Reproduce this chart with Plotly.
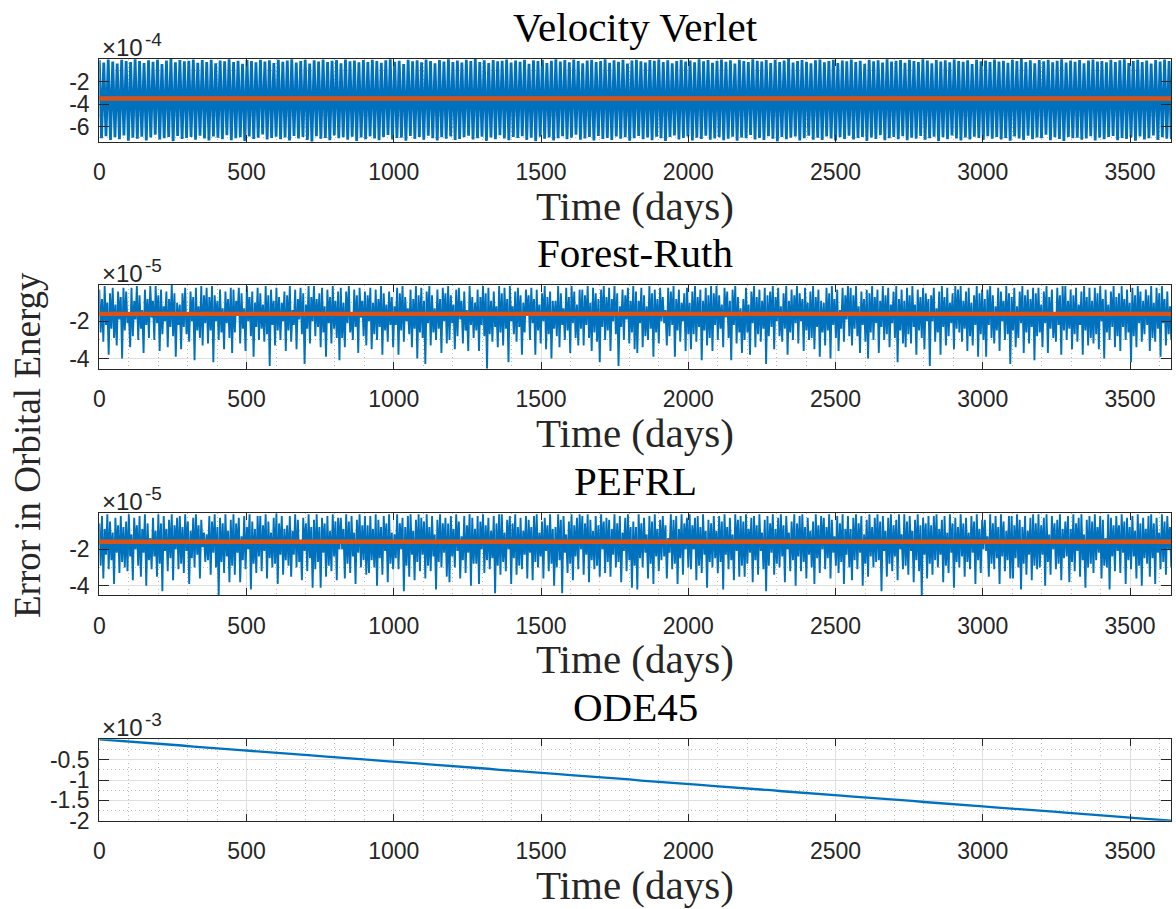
import numpy as np
import plotly.graph_objects as go

# ---------------------------------------------------------------- data
span_days = 3640  # length of the integration, days

# Velocity Verlet energy error (units of 1e-4): alternating crests / troughs
verlet_crest_e4 = [
    -0.12, -0.31, -0.05, -0.22, -0.40, -0.08, -0.17, -0.28, -0.03, -0.19, -0.35, -0.11, -0.24, -0.06, -0.45, -0.14, 0.00, -0.29, -0.09, -0.21,
    -0.16, -0.04, -0.33, -0.10, -0.26, -0.07, -0.38, -0.13, -0.20, -0.02, -0.27, -0.15, -0.42, -0.09, -0.18, -0.30, -0.06, -0.23, -0.11, -0.36,
    -0.08, -0.25, -0.14, -0.03, -0.32, -0.19, -0.07, -0.41, -0.12, -0.22, -0.05, -0.28, -0.16, -0.10, -0.37, -0.04, -0.21, -0.13, -0.30, -0.09,
    -0.27, -0.06, -0.18, -0.34, -0.11, -0.02, -0.24, -0.15, -0.44, -0.08, -0.20, -0.12, -0.29, -0.05, -0.17, -0.39, -0.10, -0.23, -0.03, -0.26,
    -0.14, -0.32, -0.07, -0.19, -0.01, -0.28, -0.12, -0.36, -0.09, -0.21, -0.16, -0.04, -0.31, -0.13, -0.25, -0.06, -0.43, -0.11, -0.18, -0.08,
    -0.35, -0.15, -0.03, -0.22, -0.10, -0.29, -0.05, -0.19, -0.38, -0.13, -0.07, -0.26, -0.17, -0.02, -0.33, -0.12, -0.24, -0.08, -0.40, -0.14,
    -0.06, -0.20, -0.31, -0.09, -0.16, -0.04, -0.27, -0.11, -0.37, -0.18, -0.07, -0.23, -0.13, -0.30, -0.02, -0.21, -0.10, -0.34, -0.15, -0.05,
    -0.25, -0.12, -0.41, -0.08, -0.19, -0.28, -0.03, -0.16, -0.22, -0.10, -0.36, -0.06, -0.27, -0.14, -0.01, -0.32, -0.17, -0.09, -0.24, -0.39,
    -0.11, -0.04, -0.29, -0.18, -0.07, -0.35, -0.13, -0.21, -0.05, -0.26, -0.15, -0.42, -0.08, -0.20, -0.12, -0.31, -0.03, -0.23, -0.16, -0.10,
    -0.33, -0.07, -0.19, -0.27, -0.02, -0.14, -0.38, -0.09, -0.22, -0.12, -0.30, -0.05, -0.17, -0.25, -0.11, -0.44, -0.06, -0.20, -0.13, -0.28,
    -0.04, -0.23, -0.15, -0.34, -0.08, -0.18, -0.01, -0.26, -0.12, -0.39, -0.10, -0.21, -0.06, -0.29, -0.16, -0.03, -0.32, -0.14, -0.24, -0.09,
    -0.37, -0.13, -0.05, -0.22, -0.17, -0.30, -0.08, -0.26, -0.11, -0.02, -0.35, -0.19, -0.07, -0.28, -0.14, -0.40, -0.10, -0.23, -0.04, -0.18,
]
verlet_trough_e4 = [
    -7.02, -6.85, -7.18, -6.93, -7.10, -6.78, -7.25, -6.97, -7.06, -6.88, -7.21, -6.95, -6.72, -7.13, -7.01, -6.90, -7.28, -6.83, -7.08, -6.99,
    -6.91, -7.16, -6.80, -7.04, -7.22, -6.87, -6.98, -7.11, -6.75, -7.19, -7.03, -6.94, -7.26, -6.86, -7.09, -6.97, -6.69, -7.14, -7.00, -6.89,
    -7.12, -6.96, -7.23, -6.82, -7.05, -6.92, -7.17, -7.33, -6.84, -7.07, -6.99, -7.20, -6.77, -7.02, -6.93, -7.15, -6.88, -7.27, -6.95, -7.10,
    -6.86, -7.04, -7.19, -6.90, -6.74, -7.13, -7.00, -6.97, -7.24, -6.83, -7.08, -6.92, -7.16, -6.79, -7.01, -7.22, -6.94, -7.06, -6.87, -7.18,
    -7.09, -6.93, -6.81, -7.14, -7.03, -6.89, -7.26, -6.96, -7.11, -6.76, -7.05, -7.20, -6.91, -7.00, -6.84, -7.17, -6.98, -7.29, -6.88, -7.07,
    -6.95, -7.21, -7.02, -6.85, -7.12, -6.97, -6.71, -7.15, -7.04, -6.90, -7.23, -6.82, -7.08, -6.99, -7.18, -6.87, -7.06, -6.94, -7.25, -7.01,
    -6.83, -7.10, -6.96, -7.19, -6.89, -7.03, -7.27, -6.92, -6.78, -7.14, -7.00, -6.86, -7.22, -6.98, -7.09, -6.80, -7.16, -7.05, -6.93, -7.20,
    -7.07, -6.88, -7.24, -6.95, -7.01, -6.73, -7.13, -6.99, -7.18, -6.84, -7.06, -7.30, -6.91, -7.11, -6.97, -6.87, -7.21, -7.02, -6.79, -7.15,
    -6.98, -7.17, -6.86, -7.05, -7.23, -6.94, -7.09, -6.81, -7.14, -7.00, -6.90, -7.26, -6.96, -7.08, -6.75, -7.19, -7.03, -6.92, -7.12, -6.85,
    -7.20, -6.97, -7.06, -6.83, -7.15, -7.01, -6.89, -7.28, -6.93, -7.10, -6.77, -7.04, -7.22, -6.95, -7.13, -6.88, -7.00, -7.17, -6.84, -7.07,
    -6.92, -7.14, -6.99, -7.25, -6.87, -7.05, -7.18, -6.80, -7.11, -6.96, -7.02, -6.70, -7.20, -6.94, -7.09, -7.27, -6.90, -7.03, -6.98, -7.16,
    -7.04, -6.85, -7.21, -6.97, -7.12, -6.91, -6.82, -7.19, -7.00, -7.08, -6.95, -7.24, -6.86, -7.13, -7.01, -6.78, -7.17, -6.93, -7.06, -7.10,
]

# Forest-Ruth energy error (units of 1e-5)
forest_ruth_e5 = [
    -0.3, -2.6, -0.8, -3.1, -0.1, -2.2, -1.0, -3.8, -0.5, -2.4, -0.2, -2.9, -1.1, -3.3, -0.4, -1.9, -0.7, -4.0, -0.2, -2.5,
    -0.4, -2.1, -1.5, -3.4, -0.2, -2.8, -0.9, -1.9, -0.1, -3.0, -0.6, -2.4, -1.4, -3.7, -0.3, -2.2, -0.8, -2.9, -0.1, -1.8,
    -0.9, -3.0, -0.1, -2.1, -0.6, -3.6, -0.3, -2.7, -1.2, -2.0, -0.4, -3.4, -0.8, -2.3, -0.05, -2.8, -0.5, -3.9, -1.0, -2.2,
    -1.1, -3.5, -0.5, -2.3, -0.2, -2.7, -1.6, -3.1, -0.4, -2.0, -0.7, -4.1, -0.2, -2.5, -1.2, -2.9, -0.1, -3.3, -0.6, -2.1,
    -0.2, -3.2, -0.7, -2.5, -0.1, -4.2, -0.6, -2.0, -0.9, -3.0, -0.3, -2.6, -1.3, -3.5, -0.4, -2.1, -0.8, -2.9, -0.2, -3.7,
    -0.3, -2.6, -0.9, -1.7, -0.2, -3.2, -0.5, -2.4, -1.3, -3.6, -0.1, -2.0, -0.7, -2.8, -0.4, -3.9, -1.0, -2.3, -0.2, -3.0,
    -0.5, -2.4, -1.1, -3.1, -0.1, -2.7, -0.6, -4.4, -0.3, -2.2, -0.9, -3.3, -0.2, -2.5, -0.7, -3.0, -1.0, -2.0, -0.4, -3.6,
    -0.6, -2.5, -0.1, -3.1, -1.4, -2.2, -0.3, -3.5, -0.8, -1.9, -0.2, -2.7, -0.5, -4.3, -1.1, -2.4, -0.1, -3.2, -0.7, -2.0,
    -0.1, -2.8, -0.8, -2.3, -0.5, -3.4, -0.2, -2.6, -1.2, -3.9, -0.3, -2.1, -0.7, -3.2, -0.1, -2.4, -0.9, -2.9, -0.4, -4.1,
    -0.2, -2.9, -1.0, -3.4, -0.4, -2.1, -0.1, -2.6, -1.5, -3.0, -0.3, -2.3, -0.6, -3.7, -0.2, -1.8, -0.9, -2.8, -0.4, -3.3,
    -0.6, -2.0, -0.2, -3.5, -1.0, -2.7, -0.3, -3.0, -0.8, -2.3, -0.1, -3.8, -0.5, -2.5, -1.1, -3.1, -0.4, -2.2, -0.7, -3.4,
    -1.2, -2.2, -0.2, -3.8, -0.5, -2.5, -0.1, -3.1, -0.7, -2.0, -1.3, -2.7, -0.3, -3.4, -0.8, -2.4, -0.1, -4.0, -0.6, -2.6,
    -0.2, -2.9, -0.9, -4.3, -0.4, -2.1, -0.1, -3.3, -0.6, -2.6, -1.3, -3.0, -0.3, -2.4, -0.8, -3.7, -0.2, -2.0, -0.5, -3.2,
    -0.1, -3.0, -0.6, -2.1, -1.1, -3.5, -0.3, -2.8, -0.2, -1.9, -0.9, -3.2, -0.4, -2.5, -1.4, -3.6, -0.1, -2.2, -0.7, -2.9,
    -1.0, -2.5, -0.3, -3.6, -0.7, -2.2, -0.1, -2.8, -0.5, -4.55, -0.2, -2.7, -0.9, -3.1, -0.4, -2.3, -1.2, -3.4, -0.1, -2.6,
    -0.5, -3.3, -0.2, -2.4, -0.8, -4.2, -0.1, -2.0, -1.2, -2.7, -0.4, -3.1, -0.2, -2.3, -0.6, -3.8, -1.0, -2.6, -0.3, -1.7,
    -0.6, -3.0, -0.2, -2.1, -0.8, -3.8, -0.3, -2.5, -1.1, -3.2, -0.5, -2.0, -0.1, -3.5, -0.7, -2.7, -0.4, -4.0, -0.9, -2.4,
    -0.9, -2.8, -0.1, -3.4, -0.5, -2.2, -1.3, -3.0, -0.2, -2.5, -0.7, -3.7, -0.1, -2.1, -0.4, -2.9, -1.1, -3.3, -0.3, -2.4,
    -0.3, -3.3, -0.6, -2.2, -0.1, -2.9, -1.0, -3.6, -0.2, -2.6, -0.5, -3.1, -0.8, -4.2, -0.3, -2.3, -0.1, -3.0, -0.7, -2.5,
    -0.2, -3.6, -0.8, -2.0, -0.1, -2.7, -0.5, -4.4, -1.2, -2.3, -0.3, -3.0, -0.6, -1.9, -0.2, -3.2, -0.9, -2.6, -0.1, -3.5,
    -0.4, -3.7, -0.9, -2.1, -0.2, -3.4, -0.6, -2.8, -1.2, -3.0, -0.1, -2.4, -0.5, -3.9, -0.3, -2.6, -0.8, -3.2, -0.2, -2.0,
    -0.7, -2.1, -1.4, -3.3, -0.2, -2.8, -0.4, -2.2, -0.1, -3.9, -0.8, -2.5, -0.3, -3.1, -1.0, -2.0, -0.5, -3.6, -0.2, -2.7,
    -1.0, -3.5, -0.4, -2.7, -0.1, -3.1, -0.7, -2.3, -0.3, -4.1, -0.9, -2.5, -0.2, -3.3, -0.6, -2.9, -0.1, -3.6, -0.5, -2.2,
    -0.1, -3.0, -0.6, -2.4, -1.1, -3.4, -0.2, -1.8, -0.4, -2.9, -0.9, -4.1, -0.3, -2.2, -0.1, -3.2, -0.7, -2.6, -1.3, -3.7,
    -0.8, -3.0, -0.2, -2.6, -1.1, -3.8, -0.4, -2.1, -0.1, -3.4, -0.7, -2.7, -0.3, -3.1, -0.9, -2.4, -0.2, -4.3, -0.6, -2.8,
    -0.4, -2.3, -0.1, -3.5, -0.7, -2.0, -0.2, -2.8, -1.2, -3.1, -0.5, -2.4, -0.1, -3.8, -0.9, -2.6, -0.3, -3.0, -0.6, -2.1,
    -0.1, -3.2, -0.5, -2.0, -0.8, -3.6, -0.2, -2.5, -1.0, -3.0, -0.4, -2.9, -0.1, -3.5, -0.7, -2.3, -0.3, -3.9, -0.9, -2.6,
    -1.0, -3.3, -0.2, -2.5, -0.5, -4.0, -0.1, -2.2, -0.8, -2.9, -0.3, -3.6, -1.4, -2.4, -0.2, -3.1, -0.6, -1.9, -0.1, -2.8,
    -0.2, -3.3, -0.6, -2.4, -0.1, -2.8, -1.2, -3.7, -0.4, -2.2, -0.8, -3.1, -0.3, -4.0, -0.5, -2.6, -0.1, -3.0, -0.7, -2.1,
    -0.3, -3.7, -0.9, -2.3, -0.1, -3.0, -0.6, -2.7, -0.2, -3.4, -1.1, -2.1, -0.4, -2.9, -0.1, -4.2, -0.8, -2.5, -0.3, -3.2,
    -0.9, -3.4, -0.2, -2.7, -0.6, -3.2, -0.1, -2.3, -1.1, -3.8, -0.3, -2.5, -0.7, -2.9, -0.2, -3.5, -0.5, -2.0, -0.8, -4.4,
    -0.6, -2.0, -0.2, -3.1, -1.3, -2.6, -0.4, -3.8, -0.1, -2.3, -0.7, -3.3, -0.2, -2.8, -1.0, -2.1, -0.5, -3.5, -0.1, -2.4,
    -0.3, -2.6, -0.1, -3.1, -0.9, -2.4, -0.4, -3.6, -0.2, -2.8, -1.0, -3.3, -0.6, -2.2, -0.1, -3.9, -0.5, -2.7, -0.3, -3.0,
    -0.8, -3.9, -0.3, -2.2, -0.1, -2.9, -0.6, -3.2, -1.2, -2.5, -0.2, -3.6, -0.4, -2.0, -0.9, -3.0, -0.1, -2.7, -0.5, -4.3,
    -0.7, -2.5, -0.2, -3.4, -1.2, -2.9, -0.4, -2.1, -0.1, -3.7, -0.6, -2.6, -0.3, -3.2, -0.8, -2.3, -0.2, -4.1, -0.5, -2.8,
    -0.2, -2.6, -1.1, -3.4, -0.4, -2.1, -0.1, -3.7, -0.7, -2.4, -0.3, -2.9, -1.5, -3.1, -0.2, -2.2, -0.6, -3.8, -0.1, -2.5,
    -0.1, -3.0, -0.9, -2.4, -0.3, -3.5, -0.6, -2.7, -0.2, -3.1, -1.1, -2.2, -0.4, -3.8, -0.1, -2.5, -0.7, -3.3, -0.2, -2.9,
    -0.9, -3.2, -0.2, -2.7, -0.5, -3.5, -0.1, -2.0, -0.8, -4.0, -0.3, -2.6, -1.1, -3.0, -0.4, -2.3, -0.1, -3.4, -0.7, -2.8,
    -0.5, -3.6, -0.1, -2.3, -0.8, -3.0, -0.3, -2.6, -1.0, -4.2, -0.2, -2.8, -0.6, -3.4, -0.1, -2.1, -0.4, -3.1, -0.9, -2.7,
    -0.3, -2.2, -0.6, -3.6, -0.1, -2.9, -1.0, -3.1, -0.2, -2.4, -0.5, -3.9, -0.1, -2.1, -0.8, -3.3, -0.4, -2.7, -1.2, -3.0,
]

# PEFRL energy error (units of 1e-5)
pefrl_e5 = [
    -0.6, -2.9, -0.2, -3.6, -0.9, -2.3, -0.1, -3.1, -0.5, -2.6, -1.1, -3.9, -0.3, -2.2, -0.7, -3.3, -0.2, -2.7, -0.8, -3.0,
    -0.5, -3.2, -0.1, -2.4, -1.2, -3.7, -0.3, -2.0, -0.7, -2.9, -0.2, -3.5, -0.9, -2.2, -0.1, -4.0, -0.6, -2.6, -1.4, -3.1,
    -0.3, -2.4, -1.0, -3.5, -0.1, -2.8, -0.6, -4.3, -0.2, -2.1, -0.9, -3.2, -0.4, -2.5, -0.1, -3.7, -0.7, -2.0, -0.3, -3.1,
    -0.2, -2.8, -0.8, -3.3, -0.1, -2.1, -0.5, -3.9, -1.0, -2.5, -0.3, -3.0, -0.1, -2.3, -0.7, -3.6, -0.4, -1.9, -1.1, -2.7,
    -1.2, -2.6, -0.2, -3.4, -0.5, -2.2, -0.1, -3.0, -0.8, -4.5, -0.3, -2.7, -0.6, -3.3, -0.1, -2.4, -1.0, -3.8, -0.4, -2.9,
    -0.1, -3.4, -0.6, -2.2, -0.3, -3.8, -1.3, -2.6, -0.2, -3.1, -0.8, -2.0, -0.1, -4.2, -0.5, -2.8, -0.9, -3.3, -0.2, -2.4,
    -0.2, -3.2, -0.7, -2.1, -0.1, -3.6, -0.5, -2.5, -1.1, -3.0, -0.3, -2.8, -0.05, -3.9, -0.6, -2.3, -0.2, -3.4, -0.9, -2.6,
    -0.7, -2.9, -0.2, -3.5, -1.0, -2.3, -0.1, -3.0, -0.4, -2.7, -1.5, -3.7, -0.3, -2.1, -0.6, -3.2, -0.1, -2.5, -0.8, -4.1,
    -0.4, -3.1, -0.1, -2.7, -0.8, -4.1, -0.3, -2.2, -0.6, -3.5, -0.2, -2.9, -1.0, -3.2, -0.1, -2.4, -0.5, -3.7, -0.3, -2.0,
    -0.3, -2.0, -0.9, -3.6, -0.1, -2.8, -0.5, -3.3, -0.2, -2.4, -1.1, -3.9, -0.4, -2.2, -0.1, -3.0, -0.7, -2.6, -0.2, -3.4,
    -0.7, -3.3, -0.2, -2.6, -0.9, -3.0, -0.1, -4.0, -0.4, -2.5, -0.8, -3.4, -0.2, -2.1, -0.6, -3.8, -0.1, -2.8, -1.1, -3.1,
    -1.2, -2.5, -0.1, -3.1, -0.6, -2.0, -0.3, -4.3, -0.8, -2.9, -0.2, -3.5, -0.1, -2.3, -1.0, -3.7, -0.4, -2.7, -0.1, -3.2,
    -0.3, -2.3, -0.5, -3.6, -0.1, -2.9, -0.8, -3.2, -0.2, -2.4, -1.2, -4.2, -0.4, -2.7, -0.1, -3.0, -0.6, -2.2, -0.3, -3.5,
    -0.6, -3.8, -0.2, -2.4, -0.9, -3.0, -0.1, -2.1, -0.5, -3.6, -1.3, -2.6, -0.2, -3.3, -0.7, -2.2, -0.1, -4.0, -0.3, -2.8,
    -0.9, -2.8, -0.2, -3.9, -0.5, -2.0, -0.1, -3.3, -0.7, -2.6, -0.3, -3.1, -1.0, -2.5, -0.2, -4.4, -0.6, -2.9, -0.1, -3.4,
    -0.1, -2.7, -1.1, -3.2, -0.4, -2.0, -0.2, -3.9, -0.6, -2.5, -0.1, -3.4, -0.8, -2.9, -0.3, -3.1, -1.0, -2.3, -0.2, -3.6,
    -0.4, -2.2, -0.8, -3.7, -0.2, -2.7, -0.1, -3.0, -1.1, -2.4, -0.5, -3.6, -0.3, -2.1, -0.7, -3.2, -0.1, -2.8, -0.9, -4.0,
    -0.8, -3.0, -0.1, -2.6, -0.4, -4.4, -0.2, -2.2, -1.2, -3.3, -0.5, -2.8, -0.1, -3.7, -0.7, -2.4, -0.3, -3.1, -0.1, -2.0,
    -0.2, -3.4, -0.6, -2.3, -0.1, -3.8, -0.4, -2.6, -1.0, -3.1, -0.2, -2.9, -0.7, -3.5, -0.1, -2.0, -0.5, -3.3, -0.3, -2.7,
    -0.4, -3.5, -0.9, -2.3, -0.1, -3.0, -0.6, -2.7, -0.2, -3.8, -1.1, -2.1, -0.3, -3.2, -0.1, -2.6, -0.8, -4.1, -0.5, -2.9,
    -0.8, -4.2, -0.1, -2.5, -0.6, -3.0, -0.3, -2.2, -1.2, -3.6, -0.2, -2.8, -0.5, -3.9, -0.1, -2.4, -0.9, -3.2, -0.4, -2.6,
    -0.2, -2.4, -0.7, -3.6, -1.4, -2.2, -0.1, -3.1, -0.4, -2.8, -0.2, -3.9, -0.9, -2.5, -0.1, -3.4, -0.6, -2.0, -0.3, -3.0,
    -0.1, -3.1, -0.7, -2.0, -0.3, -3.7, -0.2, -2.9, -0.8, -3.3, -0.1, -2.3, -1.0, -4.1, -0.4, -2.7, -0.6, -3.0, -0.2, -2.5,
    -1.0, -3.3, -0.2, -2.7, -0.5, -4.2, -0.1, -2.3, -0.8, -3.1, -0.3, -2.6, -1.2, -3.7, -0.1, -2.1, -0.4, -3.5, -0.2, -2.9,
    -0.5, -3.5, -0.1, -2.8, -0.9, -2.2, -0.3, -3.8, -0.2, -2.6, -0.7, -3.4, -0.1, -2.1, -1.1, -3.1, -0.4, -4.3, -0.2, -2.9,
    -0.6, -2.2, -0.1, -3.4, -0.9, -2.8, -0.3, -3.0, -0.1, -2.4, -0.7, -3.8, -0.2, -2.0, -1.1, -3.2, -0.5, -2.6, -0.1, -4.0,
    -0.6, -2.4, -0.2, -3.2, -0.1, -2.7, -0.8, -3.6, -0.3, -2.3, -1.0, -3.0, -0.5, -3.9, -0.1, -2.5, -0.7, -3.3, -0.2, -2.0,
    -0.3, -3.1, -0.8, -2.5, -0.1, -3.6, -0.4, -2.2, -1.3, -2.9, -0.2, -3.3, -0.6, -2.7, -0.1, -3.9, -0.9, -2.3, -0.2, -3.0,
    -0.9, -3.7, -0.3, -2.6, -0.1, -3.1, -0.6, -2.2, -0.2, -4.0, -1.2, -2.8, -0.4, -3.5, -0.1, -2.4, -0.8, -3.0, -0.3, -2.7,
    -0.1, -2.6, -0.5, -4.3, -0.2, -2.1, -1.0, -3.5, -0.3, -2.8, -0.1, -3.2, -0.7, -2.4, -0.4, -3.7, -0.1, -2.0, -1.2, -3.1,
    -0.1, -2.9, -0.5, -3.4, -0.2, -2.1, -1.0, -3.8, -0.4, -2.6, -0.1, -3.2, -0.7, -4.5, -0.3, -2.3, -0.6, -3.6, -0.2, -2.8,
    -0.7, -3.4, -0.2, -2.6, -0.1, -3.0, -0.9, -2.3, -0.4, -3.8, -0.2, -2.9, -1.1, -3.3, -0.1, -2.2, -0.6, -4.1, -0.3, -2.7,
    -0.8, -3.0, -0.1, -2.4, -0.6, -3.5, -0.3, -2.7, -1.1, -3.1, -0.2, -2.2, -0.5, -3.9, -0.1, -2.6, -0.9, -3.3, -0.4, -2.0,
    -0.4, -2.1, -1.3, -3.5, -0.1, -2.8, -0.6, -3.1, -0.2, -2.5, -0.8, -3.9, -0.1, -2.4, -0.5, -3.2, -1.0, -2.6, -0.2, -3.6,
    -0.2, -3.6, -0.7, -2.5, -0.1, -3.0, -0.4, -4.2, -0.8, -2.8, -0.2, -3.4, -1.0, -2.3, -0.3, -3.7, -0.1, -2.9, -0.6, -3.1,
    -0.1, -3.0, -0.7, -2.3, -0.3, -4.0, -0.1, -2.7, -1.2, -3.4, -0.2, -2.0, -0.6, -3.1, -0.4, -2.8, -0.1, -3.7, -0.9, -2.5,
    -0.5, -2.4, -0.2, -3.8, -0.9, -2.7, -0.1, -3.2, -0.6, -2.1, -0.3, -3.5, -0.1, -2.6, -1.2, -4.1, -0.4, -3.0, -0.2, -2.8,
    -0.5, -3.3, -0.1, -2.6, -0.8, -2.2, -0.2, -3.6, -0.4, -2.9, -1.4, -3.0, -0.1, -4.2, -0.3, -2.4, -0.7, -3.2, -0.2, -2.1,
    -0.7, -3.3, -0.1, -2.2, -0.5, -3.9, -0.3, -2.6, -0.8, -3.1, -0.2, -2.4, -1.0, -3.6, -0.1, -2.9, -0.6, -4.0, -0.3, -2.5,
    -0.9, -2.8, -0.2, -3.5, -0.1, -2.5, -0.6, -3.9, -0.3, -2.2, -1.1, -3.1, -0.1, -2.7, -0.5, -3.4, -0.2, -2.0, -0.8, -3.0,
]

# ODE45 energy error (units of 1e-3), sampled every 40 days
ode45_e3 = [
    0.000, -0.020, -0.046, -0.064, -0.090, -0.108, -0.134, -0.152, -0.178, -0.196,
    -0.222, -0.240, -0.265, -0.288, -0.306, -0.332, -0.350, -0.376, -0.394, -0.420,
    -0.438, -0.463, -0.486, -0.504, -0.530, -0.547, -0.573, -0.591, -0.617, -0.635,
    -0.661, -0.679, -0.705, -0.723, -0.749, -0.767, -0.793, -0.811, -0.837, -0.855,
    -0.881, -0.899, -0.925, -0.943, -0.969, -0.987, -1.013, -1.031, -1.057, -1.075,
    -1.101, -1.119, -1.145, -1.163, -1.189, -1.207, -1.233, -1.251, -1.277, -1.295,
    -1.321, -1.339, -1.365, -1.383, -1.409, -1.427, -1.453, -1.471, -1.497, -1.515,
    -1.540, -1.558, -1.584, -1.602, -1.628, -1.646, -1.672, -1.690, -1.716, -1.734,
    -1.760, -1.778, -1.804, -1.822, -1.848, -1.866, -1.892, -1.910, -1.936, -1.954,
    -1.976, -2.000,
]

# mean error levels (same units as the series above)
mean_verlet_e4 = -3.5
mean_forest_ruth_e5 = -1.6
mean_pefrl_e5 = -1.6

titles = ["Velocity Verlet", "Forest-Ruth", "PEFRL", "ODE45"]
exponents = ["-4", "-5", "-5", "-3"]
x_ticks = [0, 500, 1000, 1500, 2000, 2500, 3000, 3500]
y_ticks = [[-6, -4, -2], [-4, -2], [-4, -2], [-2, -1.5, -1, -0.5]]
y_tick_text = [["-6", "-4", "-2"], ["-4", "-2"], ["-4", "-2"], ["-2", "-1.5", "-1", "-0.5"]]
y_minor_step = [1, 1, 1, 0.25]

# ---------------------------------------------------------------- figure
W, H = 1176, 909
BLUE = "#0072BD"
ORANGE = "#D95319"
INK = "#262626"
SANS = "Liberation Sans, Arial, sans-serif"
SERIF = "Liberation Serif, Times New Roman, serif"


def px_x(px):
    return px / W


def px_y(px):
    return 1 - px / H


plot_left, plot_right = 99.3, 1171.3
# (top, bottom) of each panel in pixels
panel_px = [(59.0, 141.7), (285.0, 368.7), (513.3, 595.0), (739.3, 820.7)]

verlet_series = [v for pair in zip(verlet_crest_e4, verlet_trough_e4) for v in pair]
series = [verlet_series, forest_ruth_e5, pefrl_e5, ode45_e3]
means = [mean_verlet_e4, mean_forest_ruth_e5, mean_pefrl_e5, None]
line_widths = [2.8, 1.9, 1.9, 2.3]

fig = go.Figure()
annotations = []
layout_axes = {}

for i, (vals, mean) in enumerate(zip(series, means)):
    n = i + 1
    xa = "x" if n == 1 else f"x{n}"
    ya = "y" if n == 1 else f"y{n}"
    t = np.linspace(0, span_days, len(vals))
    fig.add_trace(go.Scatter(x=t, y=vals, mode="lines", xaxis=xa, yaxis=ya,
                             line=dict(color=BLUE, width=line_widths[i]),
                             hoverinfo="skip"))
    if mean is not None:
        fig.add_trace(go.Scatter(x=[0, span_days], y=[mean, mean], mode="lines",
                                 xaxis=xa, yaxis=ya,
                                 line=dict(color=ORANGE, width=4.3),
                                 hoverinfo="skip"))

    top, bottom = panel_px[i]
    common = dict(
        showline=True, linecolor=INK, linewidth=1.2, mirror="ticks",
        ticks="inside", tickcolor=INK, tickwidth=1.2,
        showgrid=True, gridcolor="#dfdfdf", gridwidth=1,
        zeroline=False, automargin=False,
        tickfont=dict(family=SANS, size=23, color=INK),
    )
    layout_axes["xaxis" if n == 1 else f"xaxis{n}"] = dict(
        common,
        domain=[px_x(plot_left), px_x(plot_right)],
        anchor=ya, range=[0, span_days],
        tickmode="array", tickvals=x_ticks, ticklen=7,
        ticklabelstandoff=10,
        minor=dict(tick0=0, dtick=100, showgrid=True, gridcolor="#bdbdbd",
                   griddash="1px,3px", gridwidth=1, ticks=""),
    )
    layout_axes["yaxis" if n == 1 else f"yaxis{n}"] = dict(
        common,
        domain=[px_y(bottom), px_y(top)],
        anchor=xa, range=[min(vals), max(vals)],
        tickmode="array", tickvals=y_ticks[i], ticktext=y_tick_text[i],
        ticklen=10, ticklabelstandoff=4,
        minor=dict(tick0=0, dtick=y_minor_step[i], showgrid=True,
                   gridcolor="#bdbdbd", griddash="1px,3px", gridwidth=1, ticks=""),
    )

    mid_x = px_x((plot_left + plot_right) / 2)
    annotations.append(dict(text=titles[i], x=mid_x, y=px_y(top - 32),
                            xref="paper", yref="paper", showarrow=False,
                            xanchor="center", yanchor="middle",
                            font=dict(family=SERIF, size=41, color="black")))
    annotations.append(dict(text="Time (days)", x=mid_x, y=px_y(bottom + 64),
                            xref="paper", yref="paper", showarrow=False,
                            xanchor="center", yanchor="middle",
                            font=dict(family=SERIF, size=41, color=INK)))
    # axis exponent: "x10" with a raised power
    annotations.append(dict(text="×10", x=px_x(plot_left + 1), y=px_y(top + 4),
                            xref="paper", yref="paper", showarrow=False,
                            xanchor="left", yanchor="bottom",
                            font=dict(family=SANS, size=24, color=INK)))
    annotations.append(dict(text=exponents[i], x=px_x(plot_left + 44), y=px_y(top - 7),
                            xref="paper", yref="paper", showarrow=False,
                            xanchor="left", yanchor="bottom",
                            font=dict(family=SANS, size=19, color=INK)))

annotations.append(dict(text="Error in Orbital Energy", x=px_x(27), y=px_y(445),
                        xref="paper", yref="paper", showarrow=False,
                        textangle=-90, xanchor="center", yanchor="middle",
                        font=dict(family=SERIF, size=37, color=INK)))

fig.update_layout(
    template="none",
    width=W, height=H,
    margin=dict(l=0, r=0, t=0, b=0, pad=0),
    paper_bgcolor="white", plot_bgcolor="white",
    showlegend=False,
    annotations=annotations,
    **layout_axes,
)

fig.write_html("out.html")
